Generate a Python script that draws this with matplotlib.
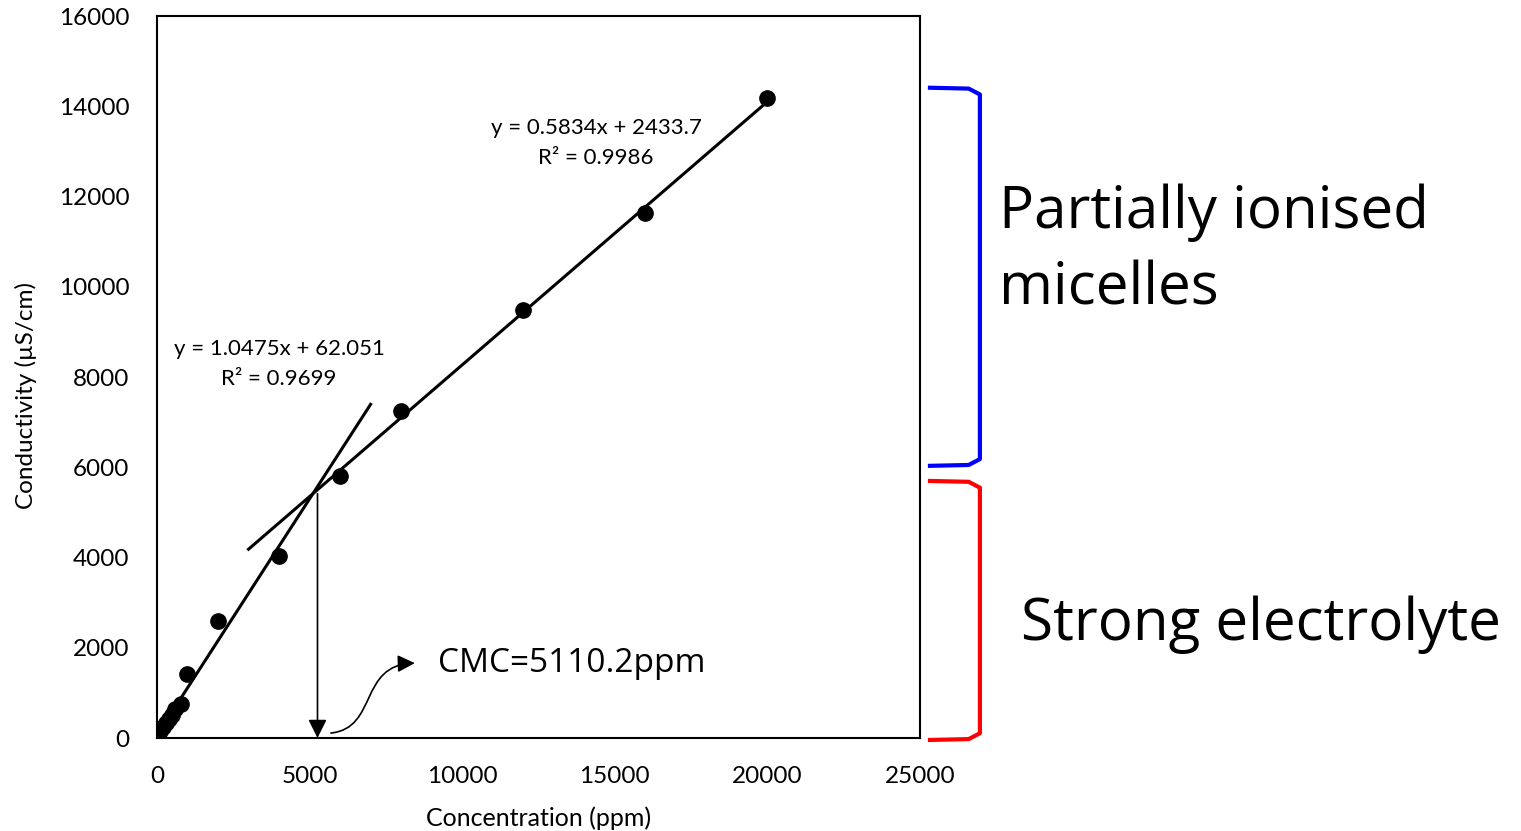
import numpy as np
import matplotlib.pyplot as plt
from matplotlib.path import Path
from matplotlib.patches import FancyArrowPatch

plt.rcParams['font.family'] = ['Lato', 'DejaVu Sans']

# dados
conc = [50, 100, 200, 300, 400, 500, 600, 800, 1000, 2000, 4000, 6000, 8000, 12000, 16000, 20000]
condut = [60, 150, 250, 330, 420, 520, 640, 760, 1420, 2600, 4040, 5810, 7250, 9490, 11640, 14190]

# retas de tendência (coeficientes do gráfico)
a1, b1 = 1.0475, 62.051
a2, b2 = 0.5834, 2433.7
x_reta1 = [0, 7000]
x_reta2 = [3000, 20000]

fig = plt.figure(figsize=(15.21, 8.31), dpi=100)
ax = fig.add_axes([0.1032, 0.1119, 0.5016, 0.8688])

ax.plot(conc, condut, 'o', color='black', markersize=11, zorder=3)
ax.plot(x_reta1, [a1 * x + b1 for x in x_reta1], color='black', linewidth=2.2)
ax.plot(x_reta2, [a2 * x + b2 for x in x_reta2], color='black', linewidth=2.2)

# ponto de intersecção -> CMC
x_cmc = (b2 - b1) / (a1 - a2)
y_cmc = a1 * x_cmc + b1
ax.annotate('', xy=(x_cmc + 150, 0), xytext=(x_cmc + 150, y_cmc),
            arrowprops=dict(arrowstyle='-|>', color='black', lw=1.2, mutation_scale=28,
                            shrinkA=0, shrinkB=0))

# seta curva até o texto
p0 = (5700, 110)
verts = [p0, (7250, 220), (6600, 1620), (8450, 1660)]
caminho = Path(verts, [Path.MOVETO, Path.CURVE4, Path.CURVE4, Path.CURVE4])
seta = FancyArrowPatch(path=caminho, arrowstyle='-|>', color='black', lw=1.2, mutation_scale=26)
ax.add_patch(seta)
ax.text(9200, 1660, f'CMC={x_cmc:.1f}ppm', fontsize=24, va='center', ha='left', family=['Open Sans', 'DejaVu Sans'])

ax.text(14385, 13190, 'y = 0.5834x + 2433.7\nR² = 0.9986', fontsize=16, ha='center', va='center', linespacing=1.6)
ax.text(3997, 8290, 'y = 1.0475x + 62.051\nR² = 0.9699', fontsize=16, ha='center', va='center', linespacing=1.6)

ax.set_xlim(0, 25000)
ax.set_ylim(0, 16000)
ax.set_xticks(range(0, 25001, 5000))
ax.set_yticks(range(0, 16001, 2000))
ax.tick_params(length=0, labelsize=17.5)
ax.tick_params(axis='x', pad=20)
ax.tick_params(axis='y', pad=20)
for s in ax.spines.values():
    s.set_linewidth(1.5)
ax.set_xlabel('Concentration (ppm)', fontsize=18, labelpad=14)
ax.set_ylabel('Conductivity (µS/cm)', fontsize=17.5)
ax.yaxis.set_label_coords(-0.157, 0.475)

# chaves laterais
def chave(y_topo, y_base, cor):
    xs = [25262, 26600, 26966, 26966, 26600, 25262]
    ys = [y_topo, y_topo - 20, y_topo - 150, y_base + 150, y_base + 20, y_base]
    ax.plot(xs, ys, color=cor, linewidth=3, clip_on=False, solid_joinstyle='round', solid_capstyle='butt')

chave(14412, 6031, 'blue')
chave(5698, -44, 'red')

fig.text(0.657, 0.698, 'Partially ionised\nmicelles', fontsize=42, va='center', ha='left',
         linespacing=1.4, family=['Open Sans', 'DejaVu Sans'])
fig.text(0.671, 0.248, 'Strong electrolyte', fontsize=42, va='center', ha='left',
         family=['Open Sans', 'DejaVu Sans'])

fig.savefig('out.png', dpi=100)
